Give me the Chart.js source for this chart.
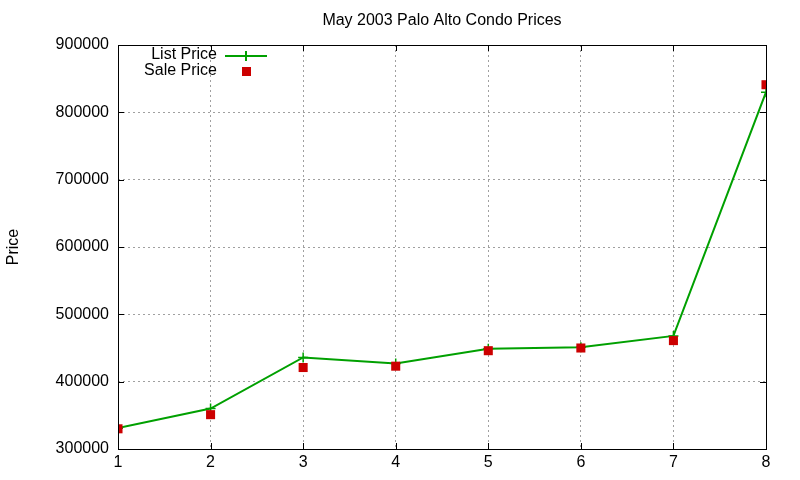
<!DOCTYPE html>
<html>
<head>
<meta charset="utf-8">
<script src="https://cdn.jsdelivr.net/npm/chart.js@4"></script>
<style>
  html, body { margin: 0; padding: 0; background: #fff; }
  #wrap { width: 800px; height: 480px; }
</style>
</head>
<body>
<div id="wrap"><canvas id="myChart" width="800" height="480"></canvas></div>
<script>
// chart data
const units = [1, 2, 3, 4, 5, 6, 7, 8];
const listPrices = [331000, 360000, 436000, 427000, 449000, 451000, 468000, 830000];
const salePrices = [330000, 351000, 421000, 423000, 446000, 450000, 461000, 841000];
const yTicks = [300000, 400000, 500000, 600000, 700000, 800000, 900000];

const FONT = "'Liberation Sans', Arial, sans-serif";
const green = "#00a000";
const red = "#cc0000";

// gnuplot style frame, inward ticks and the key
const framePlugin = {
  id: "frame",
  afterDraw(chart) {
    const { ctx, chartArea: a, scales } = chart;
    ctx.save();
    ctx.strokeStyle = "#000";
    ctx.lineWidth = 1;
    ctx.beginPath();
    units.forEach((u) => {
      const x = Math.round(scales.x.getPixelForValue(u)) + 0.5;
      ctx.moveTo(x, a.bottom); ctx.lineTo(x, a.bottom - 6);
      ctx.moveTo(x, a.top); ctx.lineTo(x, a.top + 6);
    });
    yTicks.forEach((v) => {
      const y = Math.round(scales.y.getPixelForValue(v)) + 0.5;
      ctx.moveTo(a.left, y); ctx.lineTo(a.left + 6, y);
      ctx.moveTo(a.right, y); ctx.lineTo(a.right - 6, y);
    });
    ctx.stroke();
    ctx.strokeRect(Math.round(a.left) + 0.5, Math.round(a.top) + 0.5,
      Math.round(a.right - a.left), Math.round(a.bottom - a.top));

    // key
    ctx.font = "16px " + FONT;
    ctx.fillStyle = "#000";
    ctx.textAlign = "right";
    ctx.textBaseline = "middle";
    ctx.fillText(chart.data.datasets[0].label, 217, 55);
    ctx.fillText(chart.data.datasets[1].label, 217, 71);
    ctx.strokeStyle = green;
    ctx.lineWidth = 2;
    ctx.beginPath();
    ctx.moveTo(225, 56); ctx.lineTo(267, 56);
    ctx.moveTo(246, 51); ctx.lineTo(246, 61);
    ctx.stroke();
    ctx.fillStyle = red;
    ctx.fillRect(242, 67, 9, 9);
    ctx.restore();
  },
};

const ctx = document.getElementById("myChart").getContext("2d");
new Chart(ctx, {
  type: "line",
  data: {
    datasets: [
      {
        label: "List Price",
        data: units.map((u, i) => ({ x: u, y: listPrices[i] })),
        borderColor: green,
        backgroundColor: green,
        borderWidth: 2,
        pointStyle: "cross",
        pointRadius: 5,
        pointBorderWidth: 1.5,
        tension: 0,
        order: 2,
      },
      {
        label: "Sale Price",
        data: units.map((u, i) => ({ x: u, y: salePrices[i] })),
        showLine: false,
        borderColor: red,
        backgroundColor: red,
        pointStyle: "rect",
        pointRadius: 6.4,
        pointBorderWidth: 0,
        order: 1,
      },
    ],
  },
  options: {
    responsive: false,
    animation: false,
    layout: { padding: { left: 0, right: 34, top: 0, bottom: 0 } },
    plugins: {
      legend: { display: false },
      tooltip: { enabled: false },
      title: {
        display: true,
        fullSize: false,
        text: "May 2003 Palo Alto Condo Prices",
        color: "#000",
        font: { family: FONT, size: 16, weight: "normal" },
        padding: { top: 10.5, bottom: 15.3 },
      },
    },
    scales: {
      x: {
        type: "linear",
        min: 1,
        max: 8,
        afterFit: (s) => { s.height = 31; },
        afterBuildTicks: (s) => { s.ticks = units.map((u) => ({ value: u })); },
        ticks: { color: "#000", font: { family: FONT, size: 16 }, padding: 4 },
        grid: { color: "#a0a0a0", lineWidth: 1, drawTicks: false },
        border: { display: false, dash: [2, 3] },
      },
      y: {
        min: 300000,
        max: 900000,
        afterFit: (s) => { s.width = 118; },
        afterBuildTicks: (s) => { s.ticks = yTicks.map((v) => ({ value: v })); },
        ticks: {
          color: "#000",
          font: { family: FONT, size: 16 },
          padding: 9,
          callback: (v) => String(v),
        },
        grid: { color: "#a0a0a0", lineWidth: 1, drawTicks: false },
        border: { display: false, dash: [2, 3] },
        title: {
          display: true,
          text: "Price",
          color: "#000",
          font: { family: FONT, size: 16 },
          padding: { top: 4, bottom: 0 },
        },
      },
    },
  },
  plugins: [framePlugin],
});
</script>
</body>
</html>
